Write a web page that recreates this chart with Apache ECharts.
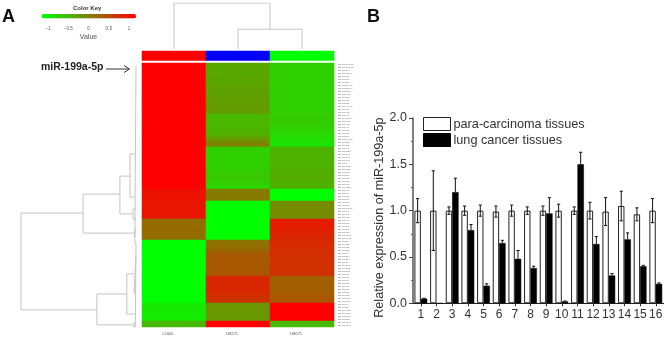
<!DOCTYPE html>
<html><head><meta charset="utf-8">
<style>html,body{margin:0;padding:0;background:#fff}#c{width:668px;height:341px}</style>
<script src="https://cdn.jsdelivr.net/npm/echarts@6/dist/echarts.min.js"></script>
</head><body><div id="c"></div>
<script>
// ---------- Panel A: heat map ----------
const sampleNames = ['L1605', 'U8271', 'U8071'];
const annotationValues = ['#ff0000', '#0000ff', '#00ff00'];
const colL1605 = [1.15,1.15,1.15,1.15,1.15,1.15,1.15,1.15,1.15,1.15,1.15,1.15,1.15,1.15,1.15,1.15,1.15,
  1.15,1.15,1.15,1.15,1.15,1.15,1.15,1.15,1.15,1.15,1.15,
  1.15,1.15,1.15,1.15,1.15,1.15,1.15,1.15,1.15,1.15,1.15,1.15,1.15,1.15,
  1.0,1.0,0.98,0.98, 0.95,0.95,0.95,0.95,0.95,0.95,
  0.16,0.18,0.18,0.2,0.18,0.16,0.16,
  -1.15,-1.15,-1.15,-1.15,-1.15,-1.15,-1.15,-1.15,-1.15,-1.15,-1.15,-1.15,
  -1.15,-1.15,-1.15,-1.15,-1.15,-1.15,-1.15,-1.15,-1.15,
  -0.95,-0.95,-0.95,-0.98,-0.98,-0.98, -0.5,-0.5];
const colU8271 = [-0.36,-0.36,-0.36,-0.36,-0.34,-0.34,-0.34,-0.32,-0.32,-0.3,-0.3,-0.28,-0.28,-0.26,-0.26,-0.24,-0.24,
  -0.5,-0.5,-0.5,-0.48,-0.48,-0.46,-0.44,-0.36,-0.2,-0.08,-0.02,
  -0.72,-0.72,-0.72,-0.72,-0.72,-0.72,-0.72,-0.7,-0.68,-0.66,-0.66,-0.68,-0.72,-0.78,
  0.05,0.05,0.05,0.05, -1.15,-1.15,-1.15,-1.15,-1.15,-1.15,
  -1.15,-1.15,-1.15,-1.15,-1.15,-1.15,-1.15,
  0.12,0.14,0.16,0.2,0.34,0.36,0.36,0.36,0.36,0.36,0.36,0.38,
  0.78,0.8,0.8,0.8,0.8,0.78,0.74,0.7,0.68,
  -0.2,-0.2,-0.2,-0.2,-0.22,-0.22, 1.15,1.15];
const colU8071 = [-0.72,-0.72,-0.72,-0.72,-0.72,-0.72,-0.72,-0.72,-0.72,-0.72,-0.72,-0.72,-0.72,-0.72,-0.72,-0.72,-0.72,
  -0.68,-0.68,-0.68,-0.7,-0.72,-0.75,-0.78,-0.82,-0.88,-0.88,-0.88,
  -0.45,-0.45,-0.45,-0.45,-0.45,-0.45,-0.45,-0.43,-0.43,-0.4,-0.4,-0.43,-0.45,-0.4,
  -1.15,-1.15,-1.15,-1.15, -0.1,-0.1,-0.1,-0.1,-0.1,-0.1,
  0.9,0.9,0.9,0.88,0.86,0.82,0.8,
  0.78,0.78,0.76,0.74,0.74,0.74,0.72,0.72,0.72,0.72,0.72,0.72,
  0.3,0.3,0.3,0.3,0.3,0.32,0.36,0.36,0.36,
  1.15,1.15,1.15,1.15,1.15,1.15, -0.5,-0.5];
const rowNames = ['hsa-miR-199b-5p','hsa-miR-199a-5p','hsa-miR-214','hsa-miR-127-3p','hsa-miR-134','hsa-miR-136','hsa-miR-154','hsa-miR-337-5p','hsa-miR-299-3p','hsa-miR-376a','hsa-miR-376c','hsa-miR-379','hsa-miR-381','hsa-miR-382','hsa-miR-409-3p','hsa-miR-411','hsa-miR-432',
 'hsa-miR-433','hsa-miR-485-3p','hsa-miR-487b','hsa-miR-493','hsa-miR-494','hsa-miR-495','hsa-miR-539','hsa-miR-543','hsa-miR-654-3p','hsa-miR-758','hsa-miR-889',
 'hsa-miR-100','hsa-miR-125b','hsa-miR-99a','hsa-miR-143','hsa-miR-145','hsa-miR-1','hsa-miR-133a','hsa-miR-133b','hsa-miR-206','hsa-miR-204','hsa-miR-218','hsa-miR-328','hsa-miR-378','hsa-miR-422a',
 'hsa-miR-451','hsa-miR-144','hsa-miR-126','hsa-miR-30a','hsa-miR-30c','hsa-miR-30d','hsa-miR-139-5p','hsa-miR-140','hsa-miR-150','hsa-miR-195','hsa-miR-497','hsa-miR-26a','hsa-miR-26b','hsa-miR-29c','hsa-miR-101','hsa-miR-let-7c','hsa-miR-let-7a',
 'hsa-miR-21','hsa-miR-155','hsa-miR-182','hsa-miR-183','hsa-miR-96','hsa-miR-205','hsa-miR-210','hsa-miR-31','hsa-miR-200a','hsa-miR-200b','hsa-miR-200c','hsa-miR-141',
 'hsa-miR-429','hsa-miR-17','hsa-miR-18a','hsa-miR-19a','hsa-miR-19b','hsa-miR-20a','hsa-miR-92a','hsa-miR-106a','hsa-miR-106b',
 'hsa-miR-93','hsa-miR-25','hsa-miR-135b','hsa-miR-196a','hsa-miR-196b','hsa-miR-223','hsa-miR-301a','hsa-miR-1246'];
const colorKeyStops = ['#00ff00', '#808000', '#ff0000'];
const colorKeyRange = [-1.15, 1.15];

// Dendrogram merges: [parent height, first position, first child height, second position, second child height]
const columnMerges = [[0.43, 1.5, 0, 2.5, 0], [1, 0.5, 0, 2, 0.43]];
const rowMerges = [
  [1.0, 50, 0.46, 82.3, 0.34], [0.46, 43.7, 0.14, 56.7, 0.017], [0.34, 77, 0.08, 87.3, 0.02],
  [0.14, 37.7, 0.052, 50.3, 0.026], [0.052, 30.3, 0.01, 44.7, 0.01], [0.026, 48.7, 0, 52, 0],
  [0.017, 55, 0, 57.7, 0], [0.08, 70.3, 0.017, 83.7, 0.01], [0.017, 64, 0, 76.7, 0],
  [0.02, 86.7, 0, 88, 0], [0.01, 1, 0, 60, 0], [0.006, 60, 0, 88, 0]
];

// ---------- Panel B: bar chart ----------
const patients = ['1','2','3','4','5','6','7','8','9','10','11','12','13','14','15','16'];
const paraValues = [1.0,1.0,1.0,1.0,1.0,0.99,1.0,1.0,1.0,1.0,1.0,1.0,0.99,1.05,0.96,1.0];
const paraErrors = [0.13,0.43,0.04,0.05,0.06,0.06,0.06,0.04,0.05,0.07,0.04,0.09,0.15,0.16,0.07,0.13];
const lungValues = [0.05,0,1.2,0.79,0.19,0.65,0.48,0.38,0.97,0.02,1.5,0.64,0.30,0.69,0.40,0.21];
const lungErrors = [0.005,0,0.15,0.06,0.02,0.03,0.09,0.02,0.17,0.005,0.13,0.08,0.02,0.07,0.01,0.01];
const seriesNames = ['para-carcinoma tissues', 'lung cancer tissues'];
const yTitle = 'Relative expression of miR-199a-5p';

const heatData = [];
[colL1605, colU8271, colU8071].forEach((col, c) => col.forEach((v, r) => heatData.push([c, r, v])));

const dendroColor = '#c4c4c4';
const gap = ['-', '-'];
const columnPath = columnMerges.flatMap(([h, a, ha, b, hb]) => [[a, ha], [a, h], [b, h], [b, hb], gap]);
const rowPath = rowMerges.flatMap(([h, a, ha, b, hb]) => [[ha, a], [h, a], [h, b], [hb, b], gap]);

const barWidth = 6.4;
const errorSeries = (vals, errs, offset, both, z) => ({
  type: 'custom', xAxisIndex: 5, yAxisIndex: 5, z, silent: true,
  data: vals.map((v, i) => [i, v, errs[i]]),
  renderItem(params, api) {
    const i = api.value(0), v = api.value(1), e = api.value(2);
    if (!e) return;
    const x = api.coord([i, v])[0] + offset;
    const top = api.coord([i, v + e])[1];
    const mid = api.coord([i, both ? v - e : v])[1];
    const style = { stroke: '#111', lineWidth: 1, fill: 'none' };
    return { type: 'group', children: [
      { type: 'line', shape: { x1: x, y1: top, x2: x, y2: mid }, style },
      { type: 'line', shape: { x1: x - 1.6, y1: top, x2: x + 1.6, y2: top }, style },
      ...(both ? [{ type: 'line', shape: { x1: x - 1.6, y1: mid, x2: x + 1.6, y2: mid }, style }] : [])
    ]};
  }
});

const hiddenAxis = { show: false };
const chart = echarts.init(document.getElementById('c'), null, { renderer: 'canvas' });
chart.setOption({
  animation: false,
  textStyle: { fontFamily: 'Liberation Sans' },
  graphic: [
    { type: 'text', left: 2, top: 8, style: { text: 'A', font: 'bold 18px "Liberation Sans"', fill: '#111' } },
    { type: 'text', left: 367, top: 8, style: { text: 'B', font: 'bold 18px "Liberation Sans"', fill: '#111' } },
    { type: 'text', left: 73, top: 5, style: { text: 'Color Key', font: 'bold 6px "Liberation Sans"', fill: '#333' } },
    { type: 'text', left: 41, top: 62, style: { text: 'miR-199a-5p', font: 'bold 10.5px "Liberation Sans"', fill: '#222' } },
    { type: 'polyline', shape: { points: [[106, 69], [129, 69]] }, style: { stroke: '#333', lineWidth: 1, fill: 'none' } },
    { type: 'polyline', shape: { points: [[124, 65.5], [129.5, 69], [124, 72.5]] }, style: { stroke: '#333', lineWidth: 1, fill: 'none' } }
  ],
  visualMap: [{
    type: 'continuous', seriesIndex: 0, min: colorKeyRange[0], max: colorKeyRange[1],
    orient: 'horizontal', left: 41.5, top: 14, itemWidth: 4.5, itemHeight: 94.5,
    calculable: false, hoverLink: false, text: null, padding: 0,
    inRange: { color: colorKeyStops }
  }],
  grid: [
    { left: 142, top: 63, width: 192, height: 264 },      // heat map
    { left: 142, top: 51, width: 192, height: 9.5 },      // column annotation
    { left: 142, top: 3, width: 192, height: 46 },        // column dendrogram
    { left: 21, top: 63, width: 115, height: 264 },       // row dendrogram
    { left: 27.75, top: 19, width: 121.5, height: 4 },    // colour key axis
    { left: 413, top: 118, width: 250.6, height: 185.3 }  // bar chart
  ],
  xAxis: [
    { gridIndex: 0, type: 'category', data: sampleNames, axisLine: { show: false }, axisTick: { show: false }, splitLine: { show: false },
      axisLabel: { fontSize: 4, color: '#555', margin: 5, padding: [0, 12, 0, 0] } },
    { gridIndex: 1, type: 'category', data: sampleNames, ...hiddenAxis },
    { gridIndex: 2, type: 'value', min: 0, max: 3, ...hiddenAxis },
    { gridIndex: 3, type: 'value', min: 0, max: 1, inverse: true, ...hiddenAxis },
    { gridIndex: 4, type: 'value', min: -1.5, max: 1.5, interval: 0.5, axisLine: { show: false }, splitLine: { show: false },
      axisTick: { show: false }, name: 'Value', nameLocation: 'middle', nameGap: 11,
      nameTextStyle: { fontSize: 7, color: '#555' },
      axisLabel: { fontSize: 4.5, color: '#555', margin: 3, formatter: v => Math.abs(v) > 1 ? '' : (v < 0 ? '\u2212' + (-v) : String(v)) } },
    { gridIndex: 5, type: 'category', data: patients, axisLine: { lineStyle: { color: '#222', width: 1 } },
      axisTick: { show: true, alignWithLabel: true, length: 3, lineStyle: { color: '#333' } },
      axisLabel: { interval: 0, fontSize: 12, color: '#333', margin: 5, hideOverlap: false } }
  ],
  yAxis: [
    { gridIndex: 0, type: 'category', inverse: true, data: rowNames, position: 'right', axisLine: { show: false }, axisTick: { show: false }, splitLine: { show: false },
      axisLabel: { interval: 0, fontSize: 2, color: '#666', margin: 4, hideOverlap: false } },
    { gridIndex: 1, type: 'category', data: ['annotation'], ...hiddenAxis },
    { gridIndex: 2, type: 'value', min: 0, max: 1, ...hiddenAxis },
    { gridIndex: 3, type: 'value', min: 0, max: 88, inverse: true, ...hiddenAxis },
    { gridIndex: 4, type: 'value', min: 0, max: 1, ...hiddenAxis },
    { gridIndex: 5, type: 'value', min: 0, max: 2, interval: 0.5,
      axisLine: { show: true, lineStyle: { color: '#555', width: 1.5 } }, splitLine: { show: false },
      axisTick: { show: true, inside: false, length: 4, lineStyle: { color: '#444' } },
      minorTick: { show: true, splitNumber: 2, length: 2, lineStyle: { color: '#666' } },
      axisLabel: { fontSize: 12.5, color: '#333', margin: 6, formatter: v => v.toFixed(1) },
      name: yTitle, nameLocation: 'middle', nameGap: 27, nameTextStyle: { fontSize: 12.6, color: '#333', padding: [0, 14, 0, 0] } }
  ],
  legend: {
    left: 423, top: 117, orient: 'vertical', itemWidth: 27, itemHeight: 13, itemGap: 2, padding: 0,
    selectedMode: false, data: seriesNames, icon: 'rect',
    textStyle: { fontSize: 12.7, color: '#333', padding: [0, 0, 0, -2] },
    itemStyle: { borderWidth: 1 }
  },
  series: [
    { type: 'heatmap', xAxisIndex: 0, yAxisIndex: 0, data: heatData, silent: true, itemStyle: { borderWidth: 0 }, progressive: 0 },
    { type: 'heatmap', xAxisIndex: 1, yAxisIndex: 1, silent: true, progressive: 0,
      data: annotationValues.map((c, i) => ({ value: [i, 0, i], itemStyle: { color: c } })) },
    { type: 'line', xAxisIndex: 2, yAxisIndex: 2, data: columnPath, symbol: 'none', silent: true, lineStyle: { color: dendroColor, width: 1 } },
    { type: 'line', xAxisIndex: 3, yAxisIndex: 3, data: rowPath, symbol: 'none', silent: true, lineStyle: { color: dendroColor, width: 1 } },
    { name: seriesNames[0], type: 'bar', xAxisIndex: 5, yAxisIndex: 5, data: paraValues, barWidth, barGap: 0, silent: true,
      itemStyle: { color: '#fff', borderColor: '#222', borderWidth: 1 } },
    { name: seriesNames[1], type: 'bar', xAxisIndex: 5, yAxisIndex: 5, data: lungValues, barWidth, barGap: 0, silent: true,
      itemStyle: { color: '#000', borderColor: '#000', borderWidth: 0.5 } },
    errorSeries(paraValues, paraErrors, -barWidth / 2, true, 3),
    errorSeries(lungValues, lungErrors, barWidth / 2, false, 3)
  ]
});
</script></body></html>
